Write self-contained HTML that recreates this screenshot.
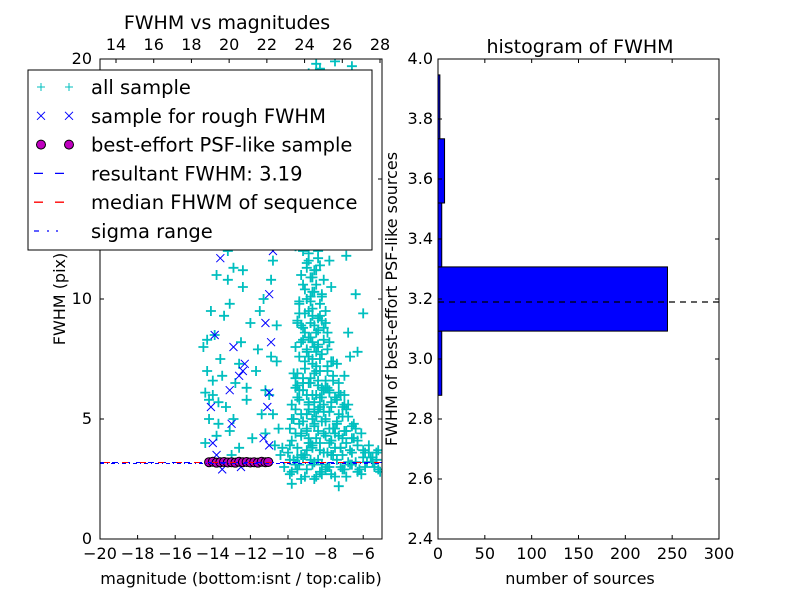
<!DOCTYPE html>
<html><head><meta charset="utf-8"><style>
body{margin:0;background:#fff}
svg text{font-family:"DejaVu Sans","Liberation Sans",sans-serif;fill:#000}
</style></head><body>
<svg id="chart" width="800" height="600" viewBox="0 0 800 600" xmlns="http://www.w3.org/2000/svg">
<rect width="800" height="600" fill="#fff"/>
<g id="left"></g>
<g id="right"></g>
</svg>
<script>
// ---- scatter data ----
const allX=[-10.2,-9.8,-9.4,-9.0,-8.6,-8.2,-7.8,-7.4,-7.0,-6.6,
-6.2,-5.8,-5.4,-5.1,-9.6,-8.8,-8.0,-7.2,-6.4,-5.6,
-10.0,-9.5,-9.1,-8.7,-8.3,-7.9,-7.5,-7.1,-6.7,-6.3,
-5.9,-5.5,-5.2,-9.8,-9.3,-8.9,-8.5,-8.1,-7.7,-7.3,
-6.9,-6.5,-6.1,-9.9,-9.4,-9.0,-8.6,-8.2,-7.8,-7.4,
-7.0,-6.6,-9.7,-9.3,-8.9,-8.5,-8.1,-7.7,-7.3,-6.9,
-9.8,-9.4,-9.0,-8.6,-8.2,-7.8,-7.4,-7.0,-6.8,-9.2,
-9.6,-9.2,-8.8,-8.4,-8.0,-7.6,-7.3,-9.5,-9.1,-8.7,
-8.3,-7.9,-7.6,-9.4,-9.0,-8.6,-8.2,-7.9,-9.3,-8.9,
-8.5,-8.1,-9.2,-8.8,-8.4,-9.1,-8.7,-8.3,-9.5,-8.0,
-9.0,-8.6,-9.2,-8.8,-8.5,-9.0,-8.2,-8.1,-8.3,-8.9,
-9.1,-8.7,-9.0,-8.4,-8.2,-8.8,-9.6,-8.5,-7.8,-7.7,
-9.5,-8.6,-7.3,-9.8,-8.0,-6.9,-9.1,-8.3,-7.0,-6.2,
-7.6,-5.8,-6.5,-7.2,-6.9,-6.4,-6.0,-6.8,-6.3,-8.1,
-14.4,-14.2,-14.0,-14.3,-14.5,-13.9,-13.6,-13.3,-13.1,-12.8,
-14.1,-13.8,-13.2,-12.7,-12.4,-12.0,-11.7,-11.4,-11.9,-12.6,
-11.2,-10.9,-10.6,-11.3,-10.8,-11.8,-12.2,-10.5,-10.7,-13.5,
-14.0,-12.9,-13.1,-12.5,-11.0,-13.7,-13.0,-9.8,-8.6,-7.3,
-8.8,-8.0,-8.7,-8.3,-8.5,-8.9,-8.5,-8.7,-8.4,-7.6,
-9.2,-8.4,-7.6,-6.8,-6.0,-5.3,-9.9,-10.4,-10.3,-6.6,
-9.3,-8.9,-8.1,-7.7,-7.1,-6.7,-8.6,-8.2,-9.0,-7.9,
-8.0,-8.4,-9.6,-7.2,-7.5,-8.8,-9.4,-6.4,-7.0,-5.7,
-9.9,-9.5,-9.1,-8.7,-8.3,-7.9,-7.5,-7.1,-6.7,-6.3,-5.9,-5.5,-5.2,-9.7,-9.3,-8.5,-7.7,-6.9,-6.1,-5.3,
-9.9,-9.6,-9.3,-9.0,-8.7,-8.4,-8.1,-7.8,-7.5,-7.2,-6.9,-6.6,-6.3,-6.0,-5.7,-9.5,-8.9,-8.3,-7.7,-7.1,
-9.8,-9.5,-9.2,-8.9,-8.6,-8.3,-8.0,-7.7,-7.4,-7.1,-6.8,-6.5,-9.6,-9.0,-8.4,-7.8,-7.2,-8.7,-8.1,-7.5,
-9.7,-9.4,-9.1,-8.8,-8.5,-8.2,-7.9,-7.6,-7.3,-7.0,-9.2,-8.6,-8.0,-7.4,-8.9,-8.3,-7.7,-9.5,-8.4,-7.8,
-9.6,-9.3,-9.0,-8.7,-8.4,-8.1,-7.8,-9.4,-8.8,-8.2,-9.1,-8.5,-7.9,-8.6,-9.2,-8.3,-8.9,-8.0,-9.5,-8.7,
-9.4,-9.1,-8.8,-8.5,-8.2,-9.3,-9.0,-8.7,-8.4,-9.2,-8.9,-8.6,-8.3,-9.1,-8.8,-8.5,-9.0,-8.7,-8.9,-8.6,
-14.3,-14.0,-13.7,-13.4,-13.2,-12.9,-12.6,-12.2,-11.9,-11.5,-11.2,-10.9,-10.6,-14.2,-13.8,-13.0,-12.4,-11.6,-10.8,-14.4,
-8.5,-7.5,-8.9,-6.6,-9.2,-7.2];
const allY=[3.0,2.8,3.1,2.9,3.2,2.7,3.0,3.3,2.9,3.1,
2.9,3.2,3.0,2.8,3.1,3.3,2.9,3.0,3.2,3.4,
3.6,3.8,3.5,3.9,3.7,3.6,3.8,3.5,3.7,3.9,
3.6,3.4,3.7,4.1,4.3,4.0,4.2,4.4,4.1,4.3,
4.0,4.2,4.4,4.6,4.8,4.5,4.7,4.9,4.6,4.8,
4.5,4.7,5.0,5.2,5.4,5.1,5.3,5.5,5.2,5.4,
5.6,5.8,6.0,5.7,5.9,6.1,5.8,6.0,5.6,6.2,
6.3,6.5,6.7,6.4,6.6,6.8,6.5,6.9,7.1,7.3,
7.0,7.2,7.4,7.6,7.8,8.0,7.7,7.9,8.2,8.4,
8.6,8.3,8.8,9.0,9.2,9.4,9.6,9.8,9.1,9.5,
10.0,10.3,10.6,10.9,11.2,11.5,10.2,10.8,11.4,11.9,
12.3,12.7,13.1,12.0,12.6,13.4,12.2,13.8,11.6,10.5,
14.2,15.0,15.8,16.5,17.3,18.0,18.8,19.6,14.8,16.0,
17.0,19.2,13.5,12.8,11.8,10.2,9.4,8.6,7.8,13.9,
4.0,5.0,6.0,7.0,8.0,8.5,7.5,5.5,4.5,6.5,
9.5,11.0,12.0,13.0,10.5,9.0,7.0,5.2,4.2,3.8,
6.2,7.6,8.9,10.0,11.6,12.6,5.8,4.6,3.9,6.8,
12.4,11.3,9.8,8.2,6.0,4.8,3.5,2.3,2.5,2.2,
4.0,4.3,5.0,5.5,6.0,6.5,7.0,7.5,8.0,4.6,
3.4,3.3,3.5,3.2,3.4,3.6,3.3,3.5,3.8,4.2,
4.4,5.7,6.2,4.1,5.1,7.6,5.3,3.1,3.7,6.3,
4.9,8.7,6.7,3.8,4.4,10.1,9.9,4.6,5.6,3.6,
2.7,2.9,2.6,3.1,2.8,3.0,2.6,2.9,3.1,2.8,3.0,3.2,2.9,3.3,2.5,2.6,2.7,2.6,2.7,3.3,
3.9,4.4,3.5,4.6,3.8,4.5,3.6,4.0,4.6,3.8,4.5,3.6,4.1,3.7,3.9,3.4,4.2,4.0,3.5,4.2,
5.0,5.9,4.9,5.6,4.8,5.9,5.0,5.7,4.9,5.5,5.1,4.8,5.4,5.2,5.4,5.3,6.0,6.0,5.6,5.9,
6.9,6.2,7.4,6.5,7.2,6.3,7.0,6.6,6.1,6.8,6.7,6.9,6.3,7.3,7.6,7.5,7.4,6.4,6.6,6.2,
8.0,8.9,7.9,9.3,8.1,8.8,8.2,9.4,8.4,9.1,8.6,7.8,8.6,8.9,8.3,9.3,9.5,9.0,9.0,8.2,
9.8,10.4,9.9,10.6,10.1,11.0,11.3,10.9,11.7,12.0,11.6,12.4,12.8,12.9,13.2,13.5,13.9,10.3,12.2,11.2,
8.3,6.6,5.7,9.3,10.8,5.0,7.3,6.3,12.3,9.5,4.4,10.8,7.4,5.8,4.3,12.8,11.2,7.9,5.2,6.1,
19.8,19.9,19.4,19.7,18.4,17.8];
const roughX=[-14.0,-14.1,-13.9,-13.1,-12.9,-12.6,-12.4,-12.3,-11.1,-11.0,-10.9,-11.2,-11.0,-11.1,-12.1,-13.6,-11.0,-11.3,-13.5,-13.0,-11.1,-10.8,-12.5,-13.8];
const roughY=[4.0,5.5,8.5,6.2,8.0,6.8,7.0,7.3,5.5,6.1,8.2,9.0,10.2,12.7,14.2,11.7,3.9,4.2,2.9,4.8,13.3,12.0,3.0,3.5];
const psfX=[-14.2,-14.0,-13.8,-13.6,-13.4,-13.2,-13.0,-12.8,-12.6,-12.4,-12.2,-12.0,-11.8,-11.6,-11.4,-11.2,-11.05];
const psfY=[3.2,3.22,3.18,3.2,3.21,3.19,3.2,3.18,3.22,3.2,3.21,3.19,3.2,3.18,3.22,3.2,3.21];
const resultFWHM=3.19;
const xTicks=[-20,-18,-16,-14,-12,-10,-8,-6];
const yTicks=[0,5,10,15,20];
const topTicks=[14,16,18,20,22,24,26,28];
// ---- histogram data ----
const binEdges=[2.879,3.093,3.307,3.52,3.734,3.947];
const binCounts=[4,245,4,7,2];
const hYTicks=[2.4,2.6,2.8,3.0,3.2,3.4,3.6,3.8,4.0];
const hXTicks=[0,50,100,150,200,250,300];

const NS="http://www.w3.org/2000/svg";
function mk(parent,tag,attrs,txt){const e=document.createElementNS(NS,tag);for(const k in attrs)e.setAttribute(k,attrs[k]);if(txt!==undefined)e.textContent=txt;parent.appendChild(e);return e;}
const fmt=v=>(v<0?'\u2212'+Math.abs(v):''+v);
const TF=16;

// left axes
const L={x0:100,x1:382,y0:539,y1:59};
const xs=v=>L.x0+(v+20)/15*(L.x1-L.x0);
const ys=v=>L.y0-v/20*(L.y0-L.y1);
const xt=v=>116+(v-14)*(380-116)/14;
const lg=document.getElementById('left');
let clip=mk(lg,'clipPath',{id:'lc'});mk(clip,'rect',{x:L.x0,y:L.y1,width:L.x1-L.x0,height:L.y0-L.y1});
const pts=mk(lg,'g',{'clip-path':'url(#lc)'});


for(let i=0;i<allX.length;i++){const x=xs(allX[i]),y=ys(allY[i]);
 const p=mk(pts,'path',{d:`M${x-5},${y}H${x+5}M${x},${y-5}V${y+5}`,stroke:'#00bfbf','stroke-width':1.8,fill:'none'});
 
 }
for(let i=0;i<roughX.length;i++){const x=xs(roughX[i]),y=ys(roughY[i]);
 const p=mk(pts,'path',{d:`M${x-4},${y-4}L${x+4},${y+4}M${x-4},${y+4}L${x+4},${y-4}`,stroke:'#0000ff','stroke-width':1,fill:'none'});
 
 }
for(let i=0;i<psfX.length;i++){const c=mk(pts,'circle',{cx:xs(psfX[i]),cy:ys(psfY[i]),r:4.5,fill:'#bf00bf',stroke:'#000','stroke-width':1});
 
 }
const yr=ys(resultFWHM);
let l1=mk(pts,'line',{x1:L.x0,x2:L.x1,y1:yr,y2:yr,stroke:'#0000ff','stroke-dasharray':'6,6'});

let l2=mk(pts,'line',{x1:L.x0+4,x2:L.x1,y1:yr,y2:yr,stroke:'#ff0000','stroke-dasharray':'6,12'});

let l3=mk(pts,'line',{x1:L.x0,x2:L.x1,y1:yr+1,y2:yr+1,stroke:'#0000ff','stroke-dasharray':'4,3,1,3'});

mk(lg,'rect',{x:L.x0,y:L.y1,width:L.x1-L.x0,height:L.y0-L.y1,fill:'none',stroke:'#000'});
xTicks.forEach(v=>{const x=xs(v);mk(lg,'path',{d:`M${x},${L.y0}v-4`,stroke:'#000'});
 const t=mk(lg,'text',{x:x,y:L.y0+20,'text-anchor':'middle','font-size':TF},fmt(v));});
mk(lg,'path',{d:`M${xs(-5)},${L.y0}v-4`,stroke:'#000'});
yTicks.forEach(v=>{const y=ys(v);mk(lg,'path',{d:`M${L.x0},${y}h4M${L.x1},${y}h-4`,stroke:'#000'});
 const t=mk(lg,'text',{x:L.x0-8,y:y+5,'text-anchor':'end','font-size':TF},v);});
topTicks.forEach(v=>{const x=xt(v);mk(lg,'path',{d:`M${x},${L.y1}v4`,stroke:'#000'});
 const t=mk(lg,'text',{x:x,y:L.y1-9,'text-anchor':'middle','font-size':TF},v);});
let tt=mk(lg,'text',{x:227,y:29,'text-anchor':'middle','font-size':19},'FWHM vs magnitudes');
let xl=mk(lg,'text',{x:241,y:584,'text-anchor':'middle','font-size':16},'magnitude (bottom:isnt / top:calib)');
let yl=mk(lg,'text',{x:0,y:0,'text-anchor':'middle','font-size':16,transform:'translate(65,299) rotate(-90)'},'FWHM (pix)');
// legend
const leg=mk(lg,'g',{});

mk(leg,'rect',{x:28,y:70,width:344,height:180,fill:'#fff',stroke:'#000'});
const labels=['all sample','sample for rough FWHM','best-effort PSF-like sample','resultant FWHM: 3.19','median FHWM of sequence','sigma range'];
labels.forEach((s,i)=>{const cy=87+i*28.8;
 [41,69].forEach(x=>{
  if(i==0)mk(leg,'path',{d:`M${x-4},${cy}H${x+4}M${x},${cy-4}V${cy+4}`,stroke:'#00bfbf'});
  if(i==1)mk(leg,'path',{d:`M${x-4},${cy-4}L${x+4},${cy+4}M${x-4},${cy+4}L${x+4},${cy-4}`,stroke:'#0000ff'});
  if(i==2)mk(leg,'circle',{cx:x,cy:cy,r:4.5,fill:'#bf00bf',stroke:'#000'});});
 if(i==3)mk(leg,'path',{d:`M34,${cy}h9M55,${cy}h9`,stroke:'#0000ff','stroke-width':1.3});
 if(i==4)mk(leg,'path',{d:`M34,${cy}h9M55,${cy}h9`,stroke:'#ff0000','stroke-width':1.3});
 if(i==5)mk(leg,'path',{d:`M34,${cy}h5M47,${cy}h2M56,${cy}h2`,stroke:'#0000ff','stroke-width':1.3});
 const t=mk(leg,'text',{x:91,y:cy+7,'font-size':19.5},s);});

// right axes
const R={x0:438,x1:719,y0:539,y1:59};
const hx=v=>R.x0+v/300*(R.x1-R.x0);
const hy=v=>R.y0-(v-2.4)/1.6*(R.y0-R.y1);
const rg=document.getElementById('right');
binCounts.forEach((c,i)=>{const b=mk(rg,'rect',{x:R.x0,y:hy(binEdges[i+1]),width:hx(c)-R.x0,height:hy(binEdges[i])-hy(binEdges[i+1]),fill:'#0000ff',stroke:'#000','stroke-width':1});
 });
let ml=mk(rg,'line',{x1:R.x0,x2:R.x1,y1:hy(resultFWHM),y2:hy(resultFWHM),stroke:'#000','stroke-dasharray':'6,5','stroke-width':1.2});

mk(rg,'rect',{x:R.x0,y:R.y1,width:R.x1-R.x0,height:R.y0-R.y1,fill:'none',stroke:'#000'});
hXTicks.forEach(v=>{const x=hx(v);mk(rg,'path',{d:`M${x},${R.y0}v-4M${x},${R.y1}v4`,stroke:'#000'});
 const t=mk(rg,'text',{x:x,y:R.y0+20,'text-anchor':'middle','font-size':TF},v);});
hYTicks.forEach(v=>{const y=hy(v);mk(rg,'path',{d:`M${R.x0},${y}h4M${R.x1},${y}h-4`,stroke:'#000'});
 const t=mk(rg,'text',{x:R.x0-5,y:y+5,'text-anchor':'end','font-size':TF},v.toFixed(1));});
let ht=mk(rg,'text',{x:580,y:53,'text-anchor':'middle','font-size':19},'histogram of FWHM');
let hxl=mk(rg,'text',{x:580,y:584,'text-anchor':'middle','font-size':16},'number of sources');
let hyl=mk(rg,'text',{x:0,y:0,'text-anchor':'middle','font-size':16,transform:'translate(397,299) rotate(-90)'},'FWHM of best-effort PSF-like sources');
</script>
</body></html>
